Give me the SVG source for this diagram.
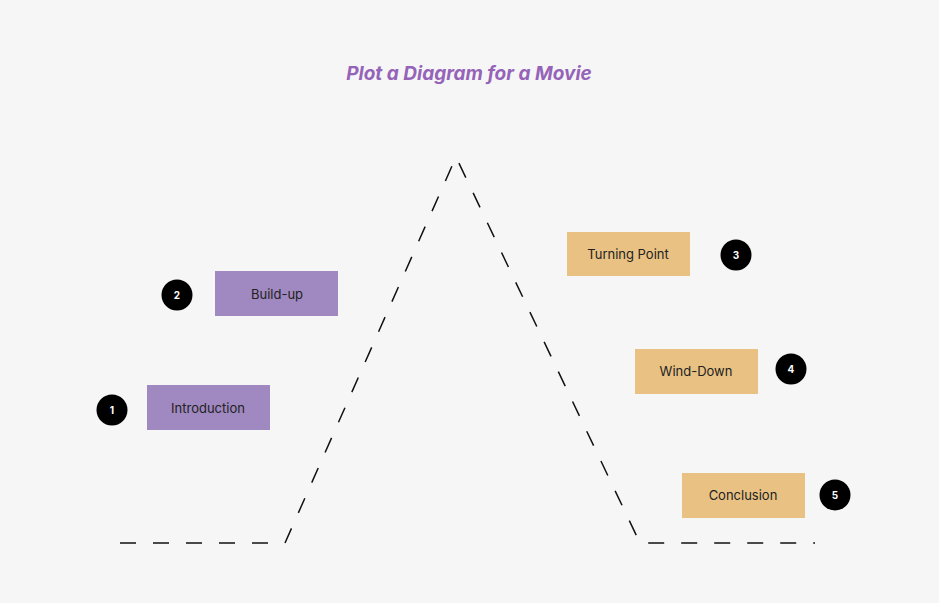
<svg xmlns="http://www.w3.org/2000/svg" width="939" height="603" viewBox="0 0 939 603">
<style>
.p{fill:#a088c0}.o{fill:#e8c183}
.t{font-family:Inter,"Liberation Sans",sans-serif;font-size:13px;fill:#222;text-anchor:middle;dominant-baseline:central}
.c{fill:#000}.n{font-family:Inter,"Liberation Sans",sans-serif;font-size:10px;font-weight:bold;fill:#fff;text-anchor:middle;dominant-baseline:central}
</style>
<rect width="939" height="603" fill="#f6f6f6"/>
<text x="469" y="80" font-family="Inter,'Liberation Sans',sans-serif" font-size="19" font-weight="bold" font-style="italic" fill="#9563b8" text-anchor="middle">Plot a Diagram for a Movie</text>
<g id="connectors"><polyline points="120,543 285,543 456,157 640,543 815,543" fill="none" stroke="#111" stroke-width="1.5" stroke-dasharray="16,17"/></g>
<g id="n1"><rect class="p" x="147" y="385" width="123" height="45"/><text class="t" x="208" y="408">Introduction</text><circle class="c" cx="112" cy="410" r="15.5"/><text class="n" x="112" y="410">1</text></g>
<g id="n2"><rect class="p" x="215" y="271" width="123" height="45"/><text class="t" x="277" y="294">Build-up</text><circle class="c" cx="177" cy="295" r="15.5"/><text class="n" x="177" y="295">2</text></g>
<g id="n3"><rect class="o" x="567" y="232" width="123" height="44"/><text class="t" x="628" y="254">Turning Point</text><circle class="c" cx="736" cy="255" r="15.5"/><text class="n" x="736" y="255">3</text></g>
<g id="n4"><rect class="o" x="635" y="349" width="123" height="45"/><text class="t" x="696" y="371">Wind-Down</text><circle class="c" cx="791" cy="369" r="15.5"/><text class="n" x="791" y="369">4</text></g>
<g id="n5"><rect class="o" x="682" y="473" width="123" height="45"/><text class="t" x="743" y="495">Conclusion</text><circle class="c" cx="835" cy="495" r="15.5"/><text class="n" x="835" y="495">5</text></g>
</svg>
